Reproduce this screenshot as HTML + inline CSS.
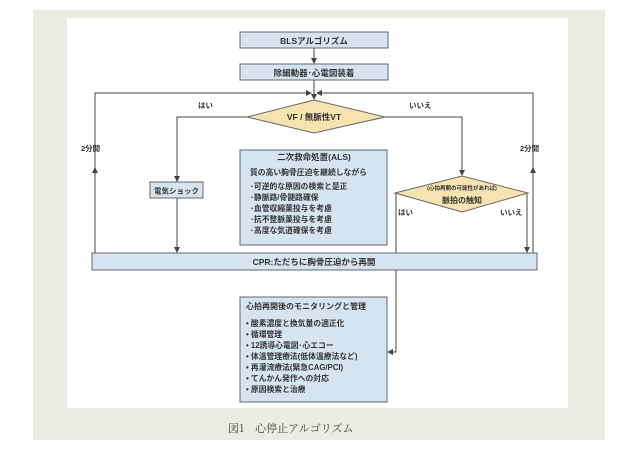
<!DOCTYPE html>
<html><head><meta charset="utf-8"><style>
html,body{margin:0;padding:0;background:#fff;}
svg{display:block;}
text{font-family:"Liberation Sans","Noto Sans CJK JP",sans-serif;font-weight:bold;fill:#333;}
.n{font-weight:normal;}
</style></head><body>
<svg width="638" height="451" viewBox="0 0 638 451" xmlns="http://www.w3.org/2000/svg">
<defs><marker id="a" markerWidth="6" markerHeight="6" refX="5" refY="3" orient="auto" markerUnits="userSpaceOnUse"><path d="M0,0 L6,3 L0,6z" fill="#444"/></marker></defs>
<rect x="33" y="10" width="572" height="430" fill="#ecebe2"/>
<rect x="67" y="18" width="501" height="390" fill="#fff"/>
<g stroke="#444" stroke-width="1" fill="none">
<line x1="314" y1="48" x2="314" y2="63" marker-end="url(#a)"/>
<line x1="314" y1="80" x2="314" y2="99" marker-end="url(#a)"/>
<polyline points="95,253 95,93 311,93" marker-end="url(#a)"/>
<polyline points="533,253 533,93 317,93" marker-end="url(#a)"/>
<line x1="95" y1="180" x2="95" y2="168" marker-end="url(#a)"/>
<line x1="533" y1="180" x2="533" y2="168" marker-end="url(#a)"/>
<polyline points="247,117 177,117 177,181" marker-end="url(#a)"/>
<line x1="177" y1="198" x2="177" y2="252" marker-end="url(#a)"/>
<polyline points="385,117 462,117 462,175" marker-end="url(#a)"/>
<polyline points="396,193 396,352 388,352" marker-end="url(#a)"/>
<polyline points="527,193 527,252" marker-end="url(#a)"/>
</g>
<g stroke="#666" stroke-width="1">
<rect x="240" y="32" width="148" height="16" fill="#d5e4f1"/>
<rect x="240" y="64" width="148" height="16" fill="#d5e4f1"/>
<polygon points="247,117 314,100 385,117 314,133" fill="#f6e3b0"/>
<rect x="150" y="182" width="53" height="16" fill="#d5e4f1"/>
<rect x="240" y="150" width="147" height="95" fill="#d5e4f1"/>
<polygon points="395,193 462,176 528,193 462,212" fill="#f6e3b0"/>
<rect x="92" y="253" width="445" height="17" fill="#d5e4f1"/>
<rect x="240" y="297" width="147" height="105" fill="#d5e4f1"/>
</g>
<g font-size="8.5" text-anchor="middle">
<text x="314" y="44">BLSアルゴリズム</text>
<text x="314" y="76">除細動器･心電図装着</text>
<text x="314" y="120">VF / 無脈性VT</text>
<text x="176.5" y="193.5" font-size="7.5">電気ショック</text>
<text x="314" y="160">二次救命処置(ALS)</text>
<text x="314" y="265">CPR:ただちに胸骨圧迫から再開</text>
<text x="462" y="203" font-size="8">脈拍の触知</text>
<text x="462" y="190" font-size="5.5">(心拍再開の可能性があれば)</text>
</g>
<g font-size="7.5">
<text x="198" y="108">はい</text>
<text x="409" y="108">いいえ</text>
<text x="81" y="151">2分間</text>
<text x="520" y="151">2分間</text>
<text x="398" y="215">はい</text>
<text x="500" y="215">いいえ</text>
</g>
<g font-size="7.8">
<text x="250" y="175">質の高い胸骨圧迫を継続しながら</text>
<text x="250" y="189">･可逆的な原因の検索と是正</text>
<text x="250" y="200">･静脈路/骨髄路確保</text>
<text x="250" y="211">･血管収縮薬投与を考慮</text>
<text x="250" y="222">･抗不整脈薬投与を考慮</text>
<text x="250" y="233">･高度な気道確保を考慮</text>
<text x="246" y="309" font-size="8">心拍再開後のモニタリングと管理</text>
<text x="246" y="326">•  酸素濃度と換気量の適正化</text>
<text x="246" y="337">•  循環管理</text>
<text x="246" y="348">•  12誘導心電図･心エコー</text>
<text x="246" y="359">•  体温管理療法(低体温療法など)</text>
<text x="246" y="370">•  再灌流療法(緊急CAG/PCI)</text>
<text x="246" y="381">•  てんかん発作への対応</text>
<text x="246" y="392">•  原因検索と治療</text>
</g>
<text x="228" y="432" font-size="11" class="n" style="font-family:'Noto Serif CJK SC','Liberation Serif',serif;fill:#444">図1　心停止アルゴリズム</text>
</svg>
</body></html>
